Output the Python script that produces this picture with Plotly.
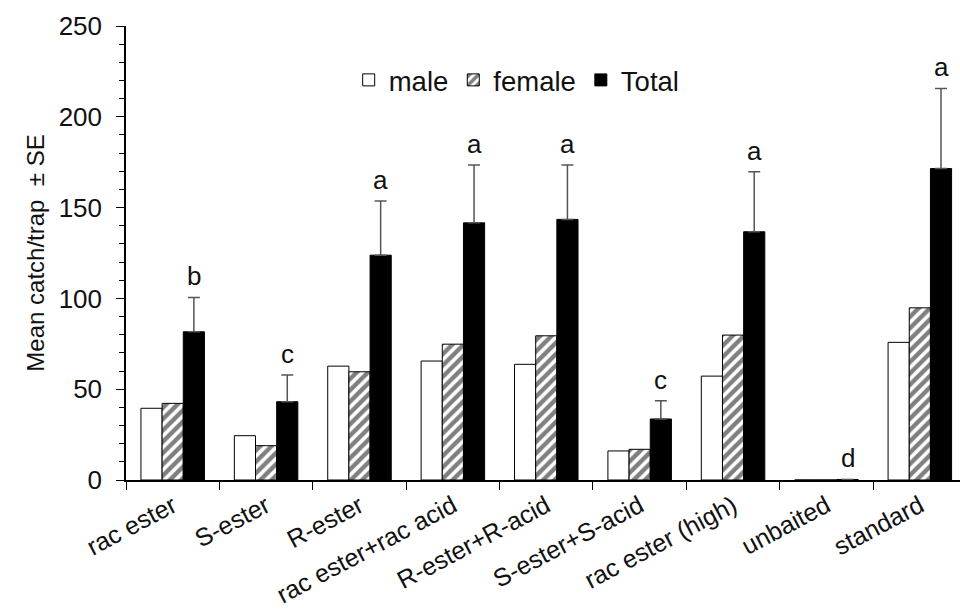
import plotly.graph_objects as go

categories = ["rac ester", "S-ester", "R-ester", "rac ester+rac acid", "R-ester+R-acid",
              "S-ester+S-acid", "rac ester (high)", "unbaited", "standard"]
male = [39.5, 24.4, 62.7, 65.5, 63.7, 16.0, 57.2, 0, 75.8]
female = [42.2, 18.9, 59.6, 74.8, 79.4, 16.9, 79.8, 0, 94.8]
total = [81.6, 43.1, 123.8, 141.6, 143.5, 33.6, 136.7, 0.3, 171.5]
total_se = [18.9, 14.7, 29.9, 31.8, 29.9, 10.1, 33.0, 0, 44.1]
letters = ["b", "c", "a", "a", "a", "c", "a", "d", "a"]
y_ticks = [0, 50, 100, 150, 200, 250]

FONT = "Liberation Sans, Arial, sans-serif"
BARGAP = 0.32

fig = go.Figure()
fig.add_trace(go.Bar(
    x=categories, y=male, name="male",
    marker=dict(color="white", line=dict(color="black", width=1)),
))
fig.add_trace(go.Bar(
    x=categories, y=female, name="female",
    marker=dict(color="white", line=dict(color="black", width=1),
                pattern=dict(shape="/", fgcolor="black", bgcolor="white",
                             size=8, solidity=0.55)),
))
fig.add_trace(go.Bar(
    x=categories, y=total, name="Total",
    marker=dict(color="black", line=dict(color="black", width=1)),
    error_y=dict(type="data", array=total_se, arrayminus=[0] * len(total_se),
                 symmetric=False, color="#555555", thickness=1.5, width=6),
))

off = (1 - BARGAP) / 3
for i, (t, s, l) in enumerate(zip(total, total_se, letters)):
    fig.add_annotation(x=i + off, y=t + s, text=l, showarrow=False,
                       xref="x", yref="y", yanchor="middle", yshift=21,
                       font=dict(family=FONT, size=26, color="#111"))

fig.update_layout(
    width=960, height=609,
    margin=dict(l=126, r=0, t=26, b=129),
    paper_bgcolor="white", plot_bgcolor="white",
    barmode="group", bargap=BARGAP, bargroupgap=0,
    font=dict(family=FONT, size=26, color="#111"),
    showlegend=True,
    legend=dict(orientation="h", x=0.267, y=0.935, xanchor="left", yanchor="top",
                bgcolor="rgba(0,0,0,0)", font=dict(family=FONT, size=27.5, color="#111"),
                itemwidth=30, tracegroupgap=0),
    xaxis=dict(
        range=[-0.5, 8.43], showline=True, linecolor="black", linewidth=1.5,
        ticks="outside", tickson="boundaries", ticklen=8, tickcolor="black",
        tickangle=-28, tickfont=dict(family=FONT, size=25, color="#111"),
        showgrid=False, zeroline=False, automargin=False,
    ),
    yaxis=dict(
        range=[0, 250], tickvals=y_ticks, showline=True, linecolor="black", linewidth=1.5,
        ticks="outside", ticklen=8, tickcolor="black",
        minor=dict(dtick=10, ticks="outside", ticklen=5, tickcolor="black", showgrid=False),
        tickfont=dict(family=FONT, size=26, color="#111"), ticklabelstandoff=9,
        showgrid=False, zeroline=False, automargin=False,
        title=dict(text="Mean catch/trap  \u00b1 SE", standoff=7,
                   font=dict(family=FONT, size=24, color="#111")),
    ),
)

fig.write_html("out.html")
